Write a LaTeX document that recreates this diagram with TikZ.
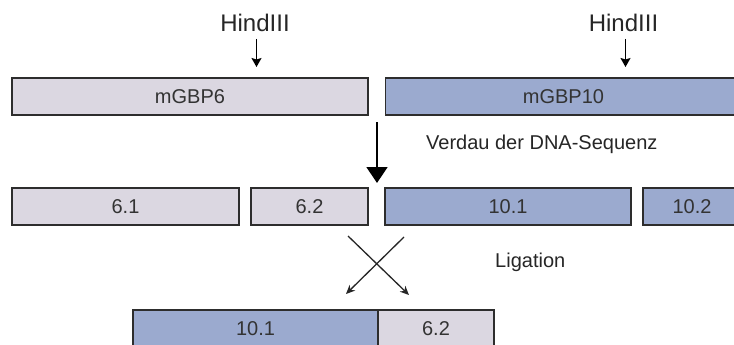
\documentclass[tikz,border=0pt]{standalone}
\usepackage{fontspec}
\setmainfont{Liberation Sans}
\usetikzlibrary{arrows.meta}
\definecolor{gFill}{RGB}{219,215,225}
\definecolor{bFill}{RGB}{155,170,207}
\definecolor{edge}{RGB}{45,45,45}
\tikzset{
  seg/.style={draw=edge, line width=1.6pt, minimum height=37.5pt, inner sep=0pt,
              font=\fontsize{20}{24}\selectfont, text=black!80},
  grayseg/.style={seg, fill=gFill},
  blueseg/.style={seg, fill=bFill},
  lbl/.style={font=\fontsize{20}{24}\selectfont, text=black!85, inner sep=0pt},
  sitelbl/.style={lbl, font=\fontsize{24}{28}\selectfont},
  cutarrow/.style={draw=black, line width=1.2pt, -{Stealth[length=9pt,width=10pt,inset=1.5pt]}},
  bigarrow/.style={draw=black, line width=1.5pt, -{Triangle[length=16pt,width=21pt]}},
  ligarrow/.style={draw=black!85, line width=1.3pt, -{Stealth[length=9pt,width=8pt]}}
}
\begin{document}
\begin{tikzpicture}[x=1pt,y=-1pt]
\clip (0,0) rectangle (734,345);
\fill[white] (0,0) rectangle (734,345);

% full-length genes
\node[grayseg, minimum width=356pt] (g6) at (190,96.5) {mGBP6};
\node[blueseg, minimum width=356pt] (g10) at (563.5,96.5) {mGBP10};

% HindIII cut sites
\node[sitelbl, anchor=base] (h1) at (255,32) {HindIII};
\node[sitelbl, anchor=base] (h2) at (623.5,32) {HindIII};
\coordinate (h1s) at (256.5,39);
\coordinate (h1e) at (256.5,67);
\coordinate (h2s) at (625.5,39);
\coordinate (h2e) at (625.5,67);
\draw[cutarrow] (h1s) -- (h1e);
\draw[cutarrow] (h2s) -- (h2e);

% digestion step
\coordinate (ds) at (377,122);
\coordinate (de) at (377,183);
\draw[bigarrow] (ds) -- (de);
\node[lbl, anchor=base west] (verdau) at (426,149) {Verdau der DNA-Sequenz};

% fragments after digestion
\node[grayseg, minimum width=227pt] (f61) at (125.5,206.5) {6.1};
\node[grayseg, minimum width=117pt] (f62) at (309.5,206.5) {6.2};
\node[blueseg, minimum width=246pt] (f101) at (508,206.5) {10.1};
\node[blueseg, minimum width=98pt] (f102) at (692,206.5) {10.2};

% ligation cross
\coordinate (la) at (348,236);
\coordinate (lb) at (409,295);
\coordinate (lc) at (404,237);
\coordinate (ld) at (346,294);
\draw[ligarrow] (la) -- (lb);
\draw[ligarrow] (lc) -- (ld);
\node[lbl, anchor=base west] (lig) at (495,267) {Ligation};

% recombined product
\node[blueseg, minimum width=245pt] (r101) at (255.5,328.5) {10.1};
\node[grayseg, minimum width=116pt] (r62) at (436,328.5) {6.2};
\end{tikzpicture}
\end{document}
